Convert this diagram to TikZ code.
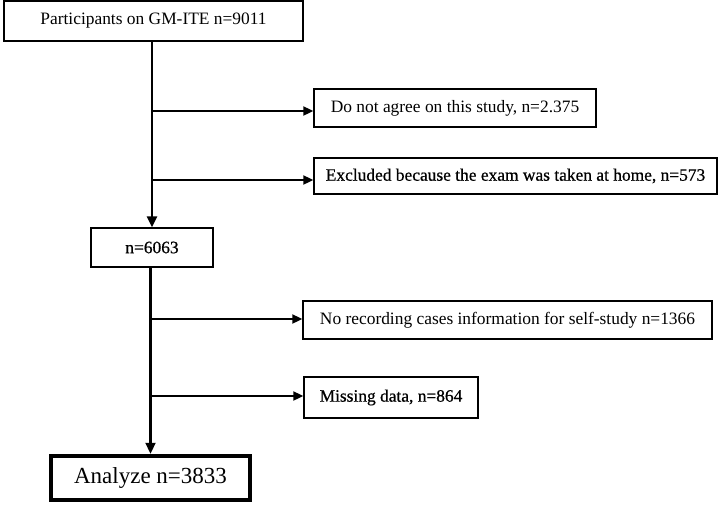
\documentclass[tikz,border=0pt]{standalone}
\usepackage{fontspec}
\setmainfont{Liberation Serif}
\newfontfamily\heavyfont[FakeBold=0.6]{Liberation Serif}
\usetikzlibrary{arrows.meta}
\begin{document}
\begin{tikzpicture}[x=1pt,y=-1pt,
  box/.style={draw=black, line width=1.3pt, inner sep=0pt, align=center,
    font=\fontsize{17.4}{20}\selectfont},
  heavy/.style={font=\fontsize{17.4}{20}\selectfont\heavyfont},
  trunk/.style={line width=2.2pt},
  arr/.style={line width=1.8pt, -{Triangle[length=10pt,width=9pt]}}]
\useasboundingbox (0,0) rectangle (725,512);
\node[box, minimum width=299pt, minimum height=40pt] (p) at (153.5,21) {Participants on GM-ITE n=9011};
\node[box, minimum width=282pt, minimum height=38pt] (d) at (455,108) {Do not agree on this study, n=2.375};
\node[box, heavy, minimum width=403pt, minimum height=36pt] (e) at (515.5,176) {Excluded because the exam was taken at home, n=573};
\node[box, heavy, minimum width=122pt, minimum height=39pt] (n) at (152,247.5) {n=6063};
\node[box, minimum width=409pt, minimum height=38pt] (r) at (507.5,320) {No recording cases information for self-study n=1366};
\node[box, heavy, minimum width=174pt, minimum height=41pt] (m) at (391,397.5) {Missing data, n=864};
\node[box, line width=4.5pt, minimum width=199pt, minimum height=44pt,
  font=\fontsize{23}{26}\selectfont] (a) at (150.5,478) {Analyze n=3833};
\draw[trunk, -{Triangle[length=11pt,width=10pt]}] (n.north |- p.south) -- (n.north);
\draw[arr] (n.north |- 0,111) -- (d.west |- 0,111);
\draw[arr] (n.north |- 0,180) -- (e.west |- 0,180);
\draw[trunk, -{Triangle[length=11pt,width=10pt]}] ([xshift=-1.5pt]n.south) -- ([xshift=-1.5pt]n.south |- a.north);
\draw[arr] ([xshift=-1.5pt]n.south |- 0,319) -- (r.west |- 0,319);
\draw[arr] ([xshift=-1.5pt]n.south |- 0,396) -- (m.west |- 0,396);
\end{tikzpicture}
\end{document}
